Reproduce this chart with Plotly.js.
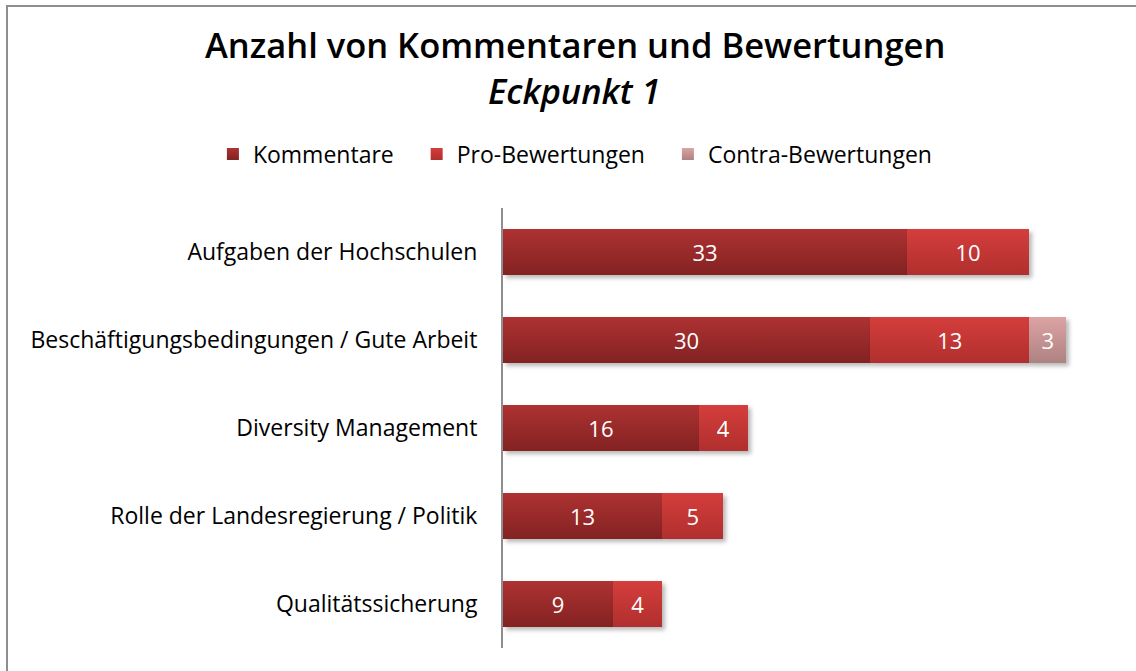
<!DOCTYPE html>
<html>
<head>
<meta charset="utf-8">
<script src="https://cdn.plot.ly/plotly-3.0.1.min.js"></script>
<style>
  html, body { margin: 0; padding: 0; background: #fff; }
  #chart { width: 1136px; height: 671px; position: relative; }
  #frame { position: absolute; left: 6px; top: 5px; width: 1200px; height: 700px;
           border-left: 2px solid #8e8e8e; border-top: 2px solid #8e8e8e; pointer-events: none; }
  .barlayer .point path { filter: drop-shadow(3px 3px 2px rgba(0,0,0,0.28)); }
  .barlayer .trace:nth-of-type(1) .point path { fill: url(#gK) !important; }
  .barlayer .trace:nth-of-type(2) .point path { fill: url(#gP) !important; }
  .barlayer .trace:nth-of-type(3) .point path { fill: url(#gC) !important; }
  .legend .traces:nth-of-type(1) .legendpoints path { fill: url(#gK) !important; }
  .legend .traces:nth-of-type(2) .legendpoints path { fill: url(#gP) !important; }
  .legend .traces:nth-of-type(3) .legendpoints path { fill: url(#gC) !important; }
</style>
</head>
<body>
<svg width="0" height="0" style="position:absolute">
  <defs>
    <linearGradient id="gK" x1="0" y1="0" x2="0" y2="1">
      <stop offset="0" stop-color="#ae3232"/><stop offset="1" stop-color="#832222"/>
    </linearGradient>
    <linearGradient id="gP" x1="0" y1="0" x2="0" y2="1">
      <stop offset="0" stop-color="#d43e3c"/><stop offset="1" stop-color="#b02f2e"/>
    </linearGradient>
    <linearGradient id="gC" x1="0" y1="0" x2="0" y2="1">
      <stop offset="0" stop-color="#dca3a3"/><stop offset="1" stop-color="#ae8282"/>
    </linearGradient>
  </defs>
</svg>
<div id="chart"></div>
<div id="frame"></div>
<script>
const categories = [
  "Aufgaben der Hochschulen",
  "Beschäftigungsbedingungen / Gute Arbeit",
  "Diversity Management",
  "Rolle der Landesregierung / Politik",
  "Qualitätssicherung"
];
const seriesNames = ["Kommentare", "Pro-Bewertungen", "Contra-Bewertungen"];
const kommentare = [33, 30, 16, 13, 9];
const proBewertungen = [10, 13, 4, 5, 4];
const contraBewertungen = [null, 3, null, null, null];
const titleText = "Anzahl von Kommentaren und Bewertungen";
const subtitleText = "Eckpunkt 1";

const FONT = "'Open Sans', Lato, sans-serif";
const PAD = '\u00a0\u00a0\u00a0';

function barTrace(name, values, color) {
  return {
    type: 'bar', orientation: 'h', name: name + PAD,
    y: categories, x: values,
    marker: { color: color, line: { width: 0 } },
    text: values.map(v => v == null ? '' : String(v)),
    textposition: 'inside', insidetextanchor: 'middle',
    textfont: { color: '#ffffff', size: 22, family: FONT },
    constraintext: 'none',
    hoverinfo: 'x+name'
  };
}

const data = [
  barTrace(seriesNames[0], kommentare, '#9a2a2a'),
  barTrace(seriesNames[1], proBewertungen, '#c43838'),
  barTrace(seriesNames[2], contraBewertungen, '#c99494')
];

const layout = {
  width: 1136, height: 671,
  paper_bgcolor: '#ffffff', plot_bgcolor: '#ffffff',
  font: { family: FONT, color: '#000000', size: 23 },
  barmode: 'stack', bargap: 0.477,
  margin: { l: 503, r: 21, t: 208, b: 23, pad: 0 },
  annotations: [
    { text: titleText, xref: 'paper', yref: 'paper', x: 0.1176, y: 1.372,
      xanchor: 'center', yanchor: 'middle', showarrow: false,
      font: { family: FONT, size: 34.5, color: '#000000', weight: 600 } },
    { text: '<i>' + subtitleText + '</i>', xref: 'paper', yref: 'paper', x: 0.1176, y: 1.266,
      xanchor: 'center', yanchor: 'middle', showarrow: false,
      font: { family: FONT, size: 34.5, color: '#000000', weight: 600 } }
  ],
  showlegend: true,
  legend: {
    orientation: 'h', xref: 'paper', yref: 'paper',
    x: -0.474, xanchor: 'left', y: 1.1227, yanchor: 'middle',
    font: { family: FONT, size: 23, color: '#000000' },
    traceorder: 'normal'
  },
  xaxis: {
    range: [0, 50], showgrid: false, zeroline: false, showline: false,
    showticklabels: false, ticks: ''
  },
  yaxis: {
    autorange: 'reversed', showgrid: false, zeroline: false,
    showline: true, linecolor: '#8e8e8e', linewidth: 2,
    ticks: '', ticklabelstandoff: 19,
    tickfont: { family: FONT, size: 23, color: '#000000' }
  }
};

Plotly.newPlot('chart', data, layout, { displayModeBar: false, staticPlot: true });
</script>
</body>
</html>
